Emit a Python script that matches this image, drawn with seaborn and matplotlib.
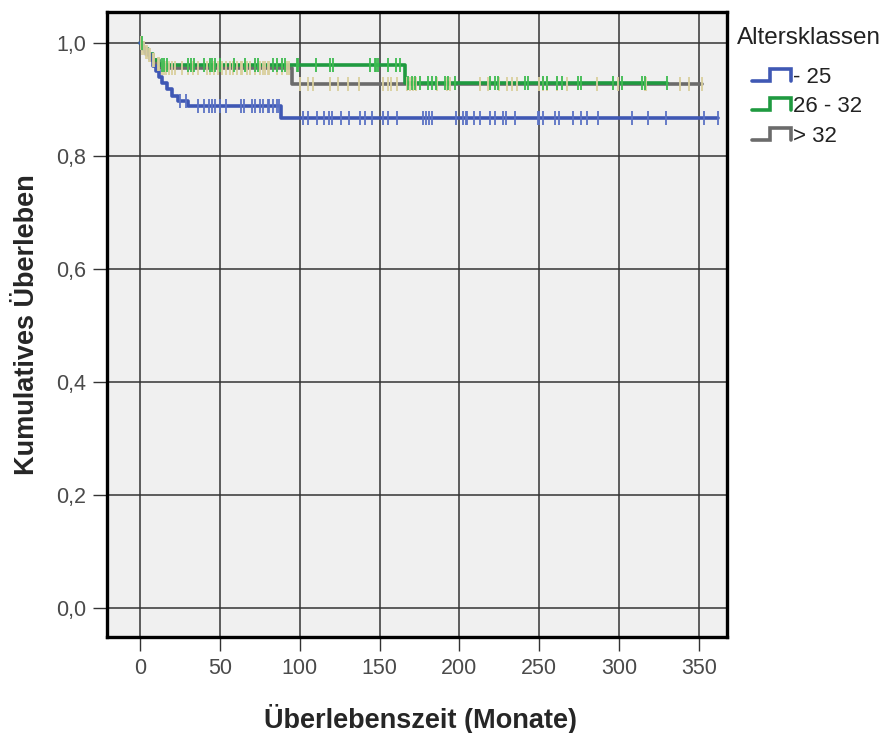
import numpy as np
import pandas as pd
import matplotlib
matplotlib.use("Agg")
import matplotlib.pyplot as plt
from matplotlib.lines import Line2D
from matplotlib.legend_handler import HandlerBase
import seaborn as sns

# ---- Kaplan-Meier data per age class -------------------------------------
groups = ["- 25", "26 - 32", "> 32"]

# group "- 25"
t_event_25 = [2, 4, 6, 8, 10, 12, 14, 17, 20, 24, 30, 88]
s_event_25 = [0.990, 0.981, 0.972, 0.960, 0.950, 0.940, 0.930, 0.918, 0.906,
              0.897, 0.888, 0.867]
t_cens_25 = [25, 29, 36, 40, 43, 45, 47, 50, 54, 63, 65, 70, 72, 75, 77, 80,
             81, 83, 86, 87, 102, 105, 111, 115, 118, 120, 126, 131, 138, 141,
             145, 152, 155, 161, 177, 179, 181, 183, 198, 202, 204, 205, 209,
             213, 219, 222, 227, 229, 235, 249, 250, 252, 260, 262, 271, 276,
             280, 287, 308, 318, 329, 353, 362]

# group "26 - 32"
t_event_26 = [2, 5, 8, 12, 166]
s_event_26 = [0.990, 0.980, 0.970, 0.961, 0.930]
t_cens_26 = [1, 14, 15, 17, 30, 32, 34, 40, 44, 45, 47, 50, 59, 66, 72, 74,
             83, 86, 89, 91, 98, 99, 110, 119, 121, 144, 147, 148, 149, 155,
             160, 163, 168, 170, 172, 175, 180, 183, 185, 191, 193, 197, 219,
             222, 224, 241, 243, 252, 255, 261, 264, 274, 276, 296, 302, 314,
             316, 330]

# group "> 32"
t_event_32 = [1, 3, 5, 7, 10, 13, 95]
s_event_32 = [0.992, 0.985, 0.978, 0.970, 0.963, 0.956, 0.928]
t_cens_32 = [0.5, 1.5, 2.5, 3.5, 4.5, 5.5, 6.5, 8, 9, 11, 12, 14, 15, 16, 18,
             20, 22, 26, 30, 33, 36, 42, 44, 46, 49, 51, 54, 56, 58, 61, 63,
             64, 67, 69, 72, 75, 77, 78, 80, 81, 86, 89, 92, 93, 100, 105, 108,
             119, 124, 130, 137, 152, 155, 157, 161, 167, 169, 171, 173, 186,
             192, 194, 213, 218, 225, 230, 233, 236, 250, 252, 255, 261, 267,
             286, 299, 316, 317, 338, 344, 352]

line_colors = {"- 25": "#3f58b4", "26 - 32": "#1f9a40", "> 32": "#6b6b6b"}
mark_colors = {"- 25": "#5b72c4", "26 - 32": "#3dbb50", "> 32": "#d9cf9c"}

x_ticks = [0, 50, 100, 150, 200, 250, 300, 350]
y_ticks = [0.0, 0.2, 0.4, 0.6, 0.8, 1.0]
y_tick_labels = ["0,0", "0,2", "0,4", "0,6", "0,8", "1,0"]


def step_table(t_event, s_event, t_cens):
    t_end = max(t_cens)
    times = [0.0] + list(t_event) + [t_end]
    surv = [1.0] + list(s_event) + [s_event[-1]]
    curve = pd.DataFrame({"t": times, "s": surv})
    ev = np.array([0.0] + list(t_event))
    sv = np.array([1.0] + list(s_event))
    idx = np.searchsorted(ev, np.array(t_cens), side="right") - 1
    marks = pd.DataFrame({"t": t_cens, "s": sv[idx]})
    return curve, marks


data = {
    "- 25": step_table(t_event_25, s_event_25, t_cens_25),
    "26 - 32": step_table(t_event_26, s_event_26, t_cens_26),
    "> 32": step_table(t_event_32, s_event_32, t_cens_32),
}

# ---- figure --------------------------------------------------------------
sns.set_style("white")
plt.rcParams["font.family"] = ["Liberation Sans", "DejaVu Sans"]

W, H = 885, 733
fig = plt.figure(figsize=(W / 100, H / 100), dpi=100)
ax = fig.add_axes([0.1209, 0.131, 0.7006, 0.8526])
ax.set_facecolor("#f0f0f0")

for g in ["> 32", "26 - 32", "- 25"]:
    curve, marks = data[g]
    sns.lineplot(data=curve, x="t", y="s", ax=ax, drawstyle="steps-post",
                 color=line_colors[g], lw=2.6, estimator=None, sort=False,
                 legend=False, zorder=3)
    sns.scatterplot(data=marks, x="t", y="s", ax=ax, marker="|", s=110,
                    color=mark_colors[g], linewidth=1.3, legend=False,
                    zorder=4)

ax.set_xlim(-20.7, 367.5)
ax.set_ylim(-0.052, 1.055)
ax.set_xticks(x_ticks)
ax.set_yticks(y_ticks)
ax.set_yticklabels(y_tick_labels)
ax.grid(True, color="#333333", lw=1.1, zorder=1)
ax.set_axisbelow(True)
for sp in ax.spines.values():
    sp.set_visible(True)
    sp.set_color("black")
    sp.set_linewidth(2.4)
ax.tick_params(axis="both", direction="out", length=10, width=1.0,
               color="#333333", labelsize=15.5, labelcolor="#4a4a4a", pad=5,
               left=True, bottom=True)

ax.set_xlabel("Überlebenszeit (Monate)", fontsize=19.5, fontweight="bold")
ax.set_ylabel("Kumulatives Überleben", fontsize=19.5, fontweight="bold")
ax.xaxis.set_label_coords(0.505, -0.108)
ax.yaxis.set_label_coords(-0.108, 0.5)


class StepHandler(HandlerBase):
    def create_artists(self, legend, orig_handle, xdescent, ydescent,
                       width, height, fontsize, trans):
        x0, y0 = -xdescent, -ydescent
        xs = [x0, x0 + 0.45 * width, x0 + 0.45 * width, x0 + width,
              x0 + width]
        ys = [y0 + 0.15 * height, y0 + 0.15 * height, y0 + 0.9 * height,
              y0 + 0.9 * height, y0 + 0.15 * height]
        ln = Line2D(xs, ys, color=orig_handle.get_color(), lw=2.6,
                    solid_joinstyle="miter", transform=trans)
        return [ln]


# legend title and entries
fig.text(737 / W, 1 - 38 / H, "Altersklassen", fontsize=17.5,
         color="#222222", ha="left", va="center")

handles = [Line2D([], [], color=line_colors[g]) for g in groups]
leg = fig.legend(handles, groups,
                 handler_map={Line2D: StepHandler()},
                 loc="upper left", bbox_to_anchor=(752 / W, 1 - 67 / H),
                 frameon=False, fontsize=16,
                 handlelength=1.75, handleheight=0.7, handletextpad=0.1,
                 labelspacing=0.38, borderaxespad=0.0, borderpad=0.0)
for txt in leg.get_texts():
    txt.set_color("#222222")

fig.savefig("out.png", dpi=100, facecolor="white")
